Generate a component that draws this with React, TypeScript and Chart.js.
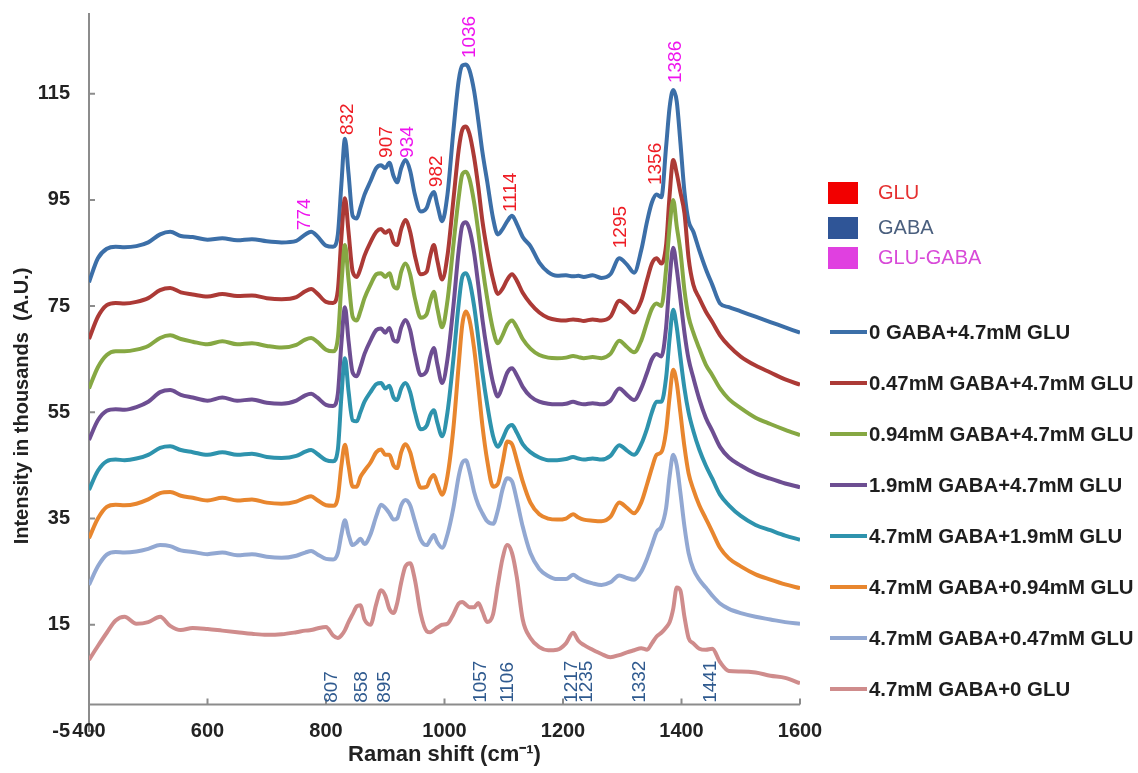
import React, { useEffect, useRef } from 'react';
import { Chart, registerables } from 'chart.js';
Chart.register(...registerables);

// ---------- DATA ----------
const RAMAN_SHIFT = [
  400, 415, 430, 445, 460, 480, 500, 520, 537, 555,
  575, 600, 625, 650, 675, 700, 725, 750, 765, 775,
  785, 800, 812, 820, 826, 832, 838, 845, 852, 858,
  865, 875, 885, 893, 900, 907, 914, 920, 927, 934,
  942, 950, 960, 970, 976, 982, 988, 996, 1005, 1015,
  1024, 1030, 1036, 1042, 1050, 1057, 1064, 1072, 1082, 1090,
  1098, 1106, 1114, 1122, 1132, 1145, 1160, 1175, 1190, 1205,
  1217, 1226, 1235, 1250, 1265, 1280, 1295, 1308, 1320, 1332,
  1342, 1350, 1358, 1366, 1374, 1380, 1386, 1392, 1398, 1405,
  1412, 1420, 1430, 1441, 1452, 1465, 1480, 1500, 1525, 1550,
  1575, 1600,
];

const SERIES_LABELS = [
  '0 GABA+4.7mM GLU',
  '0.47mM GABA+4.7mM GLU',
  '0.94mM GABA+4.7mM GLU',
  '1.9mM GABA+4.7mM GLU',
  '4.7mM GABA+1.9mM GLU',
  '4.7mM GABA+0.94mM GLU',
  '4.7mM GABA+0.47mM GLU',
  '4.7mM GABA+0 GLU',
];

const SERIES_COLORS = ['#3c6fa8', '#ac3a36', '#86a843', '#6d4e92', '#2e93ad', '#e8862e', '#92a8d2', '#cf8c8c'];

const GABA_0 = [
  79.5, 84.0, 85.8, 86.2, 86.1, 86.3, 87.0, 88.5, 89.0, 88.2,
  88.0, 87.5, 87.8, 87.4, 87.6, 87.2, 87.0, 87.3, 88.5, 89.0,
  88.2, 86.4, 86.2, 88.5, 98.0, 106.5, 100.0, 92.0, 91.5, 93.5,
  96.0, 98.5, 101.0, 101.5, 101.0, 102.0, 99.5, 98.3, 101.0, 102.5,
  100.5, 96.0, 92.8, 93.5, 95.5, 96.5, 94.0, 91.0, 96.0, 108.0,
  117.5, 120.3, 120.5, 119.5, 115.5, 110.0, 104.0, 98.5, 91.5, 88.5,
  89.5, 91.0, 92.0, 90.5, 88.0, 86.3, 83.2, 81.4, 80.7, 80.8,
  80.6, 80.7, 80.5, 80.8, 80.3, 81.0, 84.0, 82.8, 81.3, 85.5,
  91.0, 94.5, 96.0, 95.5, 105.0, 112.5, 115.7, 113.5, 106.0, 96.5,
  91.0, 89.0, 85.5, 82.0, 79.0, 75.5, 74.8, 74.0, 73.0, 72.0,
  71.0, 70.0,
];
const GABA_047 = [
  68.8, 73.0, 75.2, 75.6, 75.5, 75.8, 76.5, 78.0, 78.4, 77.6,
  77.2, 76.8, 77.3, 76.9, 77.0, 76.5, 76.3, 76.7, 77.8, 78.2,
  77.4, 75.8, 75.6, 78.0, 88.0, 95.3, 89.0, 81.5, 80.5, 82.0,
  84.5, 87.0, 89.0, 89.5, 88.8, 89.3, 87.0, 86.5, 89.5, 91.2,
  89.0, 84.5, 81.0, 81.5, 84.5, 86.5, 83.5, 80.0, 84.5, 95.0,
  104.5, 108.2, 108.8, 107.5, 103.0, 97.5, 91.0, 85.5, 80.0, 77.3,
  78.3, 80.0, 81.0, 79.8, 77.5, 75.5, 73.8, 72.8, 72.4, 72.3,
  72.5, 72.4, 72.2, 72.5, 72.3, 73.0, 76.0, 75.0, 73.8, 76.0,
  80.0, 83.0, 84.0, 83.0, 86.5, 96.0, 102.5, 100.0, 96.5, 92.5,
  84.0, 79.0, 76.5, 74.0, 72.0, 69.5, 67.5, 65.5, 63.8, 62.5,
  61.2, 60.2,
];
const GABA_094 = [
  59.5, 63.5, 65.8, 66.5, 66.5, 66.8, 67.5, 69.0, 69.5, 68.8,
  68.3, 67.8, 68.4, 67.8, 68.0, 67.5, 67.2, 67.7, 68.7, 69.0,
  68.3, 66.8, 66.5, 69.0, 79.0, 86.5, 80.0, 73.0, 72.3, 74.0,
  76.5, 79.0, 81.0, 81.2, 80.5, 81.2, 78.8, 78.3, 81.5, 83.0,
  81.0, 76.5, 72.8, 73.5, 76.0, 77.7, 74.5, 71.0, 76.0, 86.5,
  95.5, 99.8, 100.3, 99.0, 94.5, 89.0, 82.5, 76.5, 70.5, 68.0,
  69.5, 71.5, 72.3, 71.0, 68.8, 67.0, 65.8, 65.3, 65.2, 65.3,
  65.6, 65.4, 65.2, 65.4, 65.2, 66.0, 68.5, 67.3, 66.3, 68.5,
  72.0, 74.5, 75.5, 75.0, 82.0, 90.0, 95.0, 90.0, 85.5, 78.0,
  73.0, 70.0, 67.0, 64.0, 62.0, 59.5, 57.5, 55.8, 54.0, 52.8,
  51.7, 50.7,
];
const GABA_19 = [
  49.8, 53.5, 55.3, 55.6, 55.5, 56.0, 57.0, 58.8, 59.2, 58.3,
  57.8, 57.2, 57.8, 57.2, 57.4, 56.8, 56.6, 57.2, 58.2, 58.5,
  57.8, 56.4, 56.2, 58.5, 68.0, 74.8, 68.5, 62.5, 61.8, 63.5,
  66.0, 68.5, 70.5, 70.8, 70.0, 70.9, 68.6, 68.3, 71.0, 72.4,
  70.5, 66.0, 62.0, 62.8, 65.5, 67.1, 64.0, 60.5, 65.0, 75.0,
  85.5, 90.2, 90.8, 89.5, 85.0, 79.0, 72.5, 66.5, 60.5, 58.0,
  60.0, 62.5, 63.3, 62.0, 59.8, 58.0, 57.0, 56.6, 56.5, 56.6,
  57.0, 56.7, 56.5, 56.7, 56.5, 57.2, 59.5, 58.3, 57.3, 59.5,
  62.5, 65.0, 66.0, 65.5, 71.0, 80.0, 86.0, 82.0, 76.5, 70.0,
  65.0, 61.5, 57.5, 54.0, 51.5, 48.5, 46.5, 45.0, 43.5, 42.5,
  41.6, 40.9,
];
const GLU_19 = [
  40.4, 44.0, 45.8, 46.1, 46.0, 46.3, 47.0, 48.3, 48.6, 47.9,
  47.5, 47.0, 47.5, 47.0, 47.2, 46.6, 46.4, 46.8, 47.6, 47.9,
  47.2, 46.0, 45.8, 48.0, 58.0, 65.2, 59.0, 53.5, 53.3, 55.0,
  57.0, 58.8, 60.3, 60.5, 59.5, 60.0, 57.8, 57.3, 59.5, 60.5,
  58.8, 55.0, 51.8, 52.5, 54.5, 55.4, 53.0, 50.5, 55.0, 65.0,
  75.5, 80.5, 81.2, 79.8, 75.0, 69.0, 62.5, 56.5, 50.5, 48.5,
  50.0, 52.0, 52.6, 51.2, 49.0, 47.5, 46.5, 46.0, 46.0, 46.2,
  46.6, 46.3, 46.1, 46.3, 46.1, 46.8, 48.8, 47.8, 47.0, 49.0,
  52.0, 55.0, 57.0, 57.0, 61.5, 69.0, 74.3, 71.0, 65.5, 59.5,
  55.0, 51.5, 48.0, 45.0, 42.5, 39.5, 37.5, 35.5, 33.8, 32.8,
  31.8, 31.0,
];
const GLU_094 = [
  31.3, 35.0, 37.2, 37.6, 37.5, 37.8, 38.6, 39.8, 40.0, 39.3,
  38.9, 38.4, 38.9, 38.4, 38.6, 38.0, 37.8, 38.2, 38.9, 39.2,
  38.5, 37.5, 37.4, 39.0, 45.0, 48.9, 45.0, 41.0, 41.0, 42.8,
  44.0, 45.5, 47.5, 48.0, 47.0, 47.0, 45.0, 44.5, 47.5, 49.0,
  47.5, 44.0, 40.8, 41.0, 42.5, 43.2, 41.5, 39.5, 43.0, 52.0,
  64.0, 71.5, 74.0, 72.5, 67.0, 60.0, 52.5, 46.0, 41.0, 41.5,
  45.5, 49.5, 49.0, 46.0, 42.0, 38.0, 35.8, 35.0, 34.8, 35.0,
  35.8, 35.2, 34.8, 34.6, 34.5, 35.3, 38.0, 37.0, 36.0, 38.0,
  41.5, 44.5, 47.0, 47.5, 51.5, 58.0, 63.0, 60.5, 55.0, 48.5,
  43.5, 40.5, 37.5, 35.0, 32.5, 29.5, 27.5, 26.0, 24.5, 23.5,
  22.6, 21.9,
];
const GLU_047 = [
  22.5, 26.0, 28.2, 28.7, 28.6, 28.8, 29.3, 30.0, 29.8, 29.0,
  28.7, 28.3, 28.6, 28.1, 28.3, 27.8, 27.6, 28.0, 28.6, 28.9,
  28.3, 27.4, 27.3, 28.5, 32.0, 34.7, 32.0, 30.0, 30.5, 31.2,
  30.2, 32.0, 35.5, 37.6, 37.0, 36.0, 34.8, 35.0, 37.5, 38.5,
  37.5, 34.5, 31.0, 30.0, 31.0, 31.9, 30.5, 29.5, 32.0, 37.0,
  43.0, 45.5, 46.0, 44.0, 40.0, 37.6, 36.0, 34.5, 34.0, 36.5,
  40.5, 42.6, 42.0, 38.5, 33.5, 28.5, 25.5, 24.2, 23.6, 23.6,
  24.4, 23.8, 23.3, 22.8, 22.5, 23.0, 24.3, 23.8, 23.5, 25.0,
  27.5, 30.0, 32.5, 33.5, 37.0, 43.0, 47.0, 45.0, 40.0, 33.5,
  28.5, 25.5, 23.5, 22.0, 20.5, 19.0, 18.0, 17.2, 16.5, 16.0,
  15.5, 15.2,
];
const GLU_0 = [
  8.4, 11.0, 13.5, 15.8, 16.5, 15.2, 15.5, 16.5, 14.8, 14.0,
  14.4, 14.2, 13.9, 13.6, 13.3, 13.1, 13.2, 13.6, 13.9, 14.0,
  14.3, 14.6, 13.0, 12.5, 13.0, 14.0, 15.5, 17.0, 18.5, 18.7,
  16.0, 15.0, 19.0, 21.5, 20.5, 18.0, 17.2, 19.0, 23.0, 26.0,
  26.6, 23.5, 17.0, 13.8, 13.6, 14.0, 14.5, 15.0, 15.2, 17.0,
  19.0, 19.3, 18.8, 18.3, 18.3, 19.1, 17.5, 15.5, 17.0, 22.5,
  27.5, 30.0, 28.5, 24.0, 16.0, 12.5, 10.8, 10.2, 10.3, 11.5,
  13.5, 12.0, 11.2, 10.3, 9.5, 8.9, 9.3, 9.8, 10.2, 10.6,
  10.3, 11.5, 12.8, 13.5, 14.5, 15.5, 18.0, 22.0, 21.5, 16.5,
  12.5, 11.5, 10.5, 10.3, 10.5, 8.0, 6.3, 6.2, 6.0, 5.4,
  5.0, 4.0,
];

const SERIES_VALUES = [GABA_0, GABA_047, GABA_094, GABA_19, GLU_19, GLU_094, GLU_047, GLU_0];

const Y_TICKS = [-5, 15, 35, 55, 75, 95, 115];
const X_TICKS = [400, 600, 800, 1000, 1200, 1400, 1600];

// Peak annotations above the spectra (text, anchor x, anchor y, kind)
const TOP_PEAK_TEXT = ['774', '832', '907', '934', '982', '1036', '1114', '1295', '1356', '1386'];
const TOP_PEAK_X = [765, 837, 903, 938, 987, 1043, 1112, 1298, 1357, 1391];
const TOP_PEAK_Y = [89.3, 107.2, 102.9, 102.9, 97.4, 121.7, 92.7, 85.9, 97.8, 117.0];
const TOP_PEAK_KIND = ['GLU-GABA', 'GLU', 'GLU', 'GLU-GABA', 'GLU', 'GLU-GABA', 'GLU', 'GLU', 'GLU', 'GLU-GABA'];

// Peak annotations along the bottom (GABA bands)
const BOTTOM_PEAK_TEXT = ['807', '858', '895', '1057', '1106', '1217', '1235', '1332', '1441'];
const BOTTOM_PEAK_X = [810, 861, 900, 1062, 1107, 1215, 1240, 1330, 1450];

const KEY_LABELS = ['GLU', 'GABA', 'GLU-GABA'];
const KEY_FILL = { 'GLU': '#f20000', 'GABA': '#2f5597', 'GLU-GABA': '#e040e0' } as Record<string, string>;
const KEY_TEXT = { 'GLU': '#e53030', 'GABA': '#4a5f7e', 'GLU-GABA': '#d84ad8' } as Record<string, string>;
const PEAK_TEXT_COLOR = { 'GLU': '#ee1c24', 'GLU-GABA': '#ee14ee', 'GABA': '#2f5a8f' } as Record<string, string>;

const FONT = '"Liberation Sans", Arial, Helvetica, sans-serif';

const overlay = {
  id: 'overlay',
  beforeDatasetsDraw(chart: any) {
    const { ctx, scales } = chart;
    const x = scales.x, y = scales.y;
    const y0 = y.getPixelForValue(0);
    ctx.save();
    ctx.strokeStyle = '#8c8c8c';
    ctx.lineWidth = 2;
    ctx.beginPath();
    ctx.moveTo(x.left, y0);
    ctx.lineTo(x.right, y0);
    X_TICKS.forEach((v) => {
      const px = x.getPixelForValue(v);
      ctx.moveTo(px, y0);
      ctx.lineTo(px, y0 - 6);
    });
    Y_TICKS.forEach((v) => {
      const py = y.getPixelForValue(v);
      ctx.moveTo(x.left, py);
      ctx.lineTo(x.left + 6, py);
    });
    ctx.stroke();
    ctx.restore();
  },
  afterDraw(chart: any) {
    const { ctx, scales } = chart;
    const x = scales.x, y = scales.y;
    ctx.save();

    // x tick labels, on the row of the lowest y tick
    ctx.fillStyle = '#222';
    ctx.font = `bold 20px ${FONT}`;
    ctx.textAlign = 'center';
    ctx.textBaseline = 'middle';
    const yLab = y.getPixelForValue(Y_TICKS[0]);
    X_TICKS.forEach((v) => {
      ctx.fillText(String(v), x.getPixelForValue(v), yLab);
    });

    // y-axis title
    ctx.save();
    ctx.translate(22, 406);
    ctx.rotate(-Math.PI / 2);
    ctx.fillText('Intensity in thousands  (A.U.)', 0, 0);
    ctx.restore();

    // top peak labels (rotated)
    ctx.font = `19px ${FONT}`;
    ctx.textAlign = 'left';
    ctx.textBaseline = 'middle';
    TOP_PEAK_TEXT.forEach((t, i) => {
      const px = x.getPixelForValue(TOP_PEAK_X[i]);
      const py = y.getPixelForValue(TOP_PEAK_Y[i]);
      ctx.save();
      ctx.translate(px, py);
      ctx.rotate(-Math.PI / 2);
      ctx.fillStyle = PEAK_TEXT_COLOR[TOP_PEAK_KIND[i]];
      ctx.fillText(t, 0, 0);
      ctx.restore();
    });

    // bottom peak labels
    BOTTOM_PEAK_TEXT.forEach((t, i) => {
      const px = x.getPixelForValue(BOTTOM_PEAK_X[i]);
      const py = y.getPixelForValue(0.3);
      ctx.save();
      ctx.translate(px, py);
      ctx.rotate(-Math.PI / 2);
      ctx.fillStyle = PEAK_TEXT_COLOR['GABA'];
      ctx.fillText(t, 0, 0);
      ctx.restore();
    });

    // colour key
    const keyTops = [182, 217, 247];
    KEY_LABELS.forEach((k, i) => {
      ctx.fillStyle = KEY_FILL[k];
      ctx.fillRect(828, keyTops[i], 30, 22);
      ctx.fillStyle = KEY_TEXT[k];
      ctx.font = `20px ${FONT}`;
      ctx.textAlign = 'left';
      ctx.textBaseline = 'middle';
      ctx.fillText(k, 878, keyTops[i] + 11);
    });

    // series legend
    chart.data.datasets.forEach((ds: any, i: number) => {
      const cy = 332 + i * 51;
      ctx.strokeStyle = ds.borderColor;
      ctx.lineWidth = 4;
      ctx.beginPath();
      ctx.moveTo(830, cy);
      ctx.lineTo(867, cy);
      ctx.stroke();
      ctx.fillStyle = '#1e1e1e';
      ctx.font = `bold 20.4px ${FONT}`;
      ctx.textAlign = 'left';
      ctx.textBaseline = 'middle';
      ctx.fillText(ds.label, 869, cy + 1);
    });
    ctx.restore();
  },
};

export default function App() {
  const ref = useRef<HTMLCanvasElement | null>(null);
  useEffect(() => {
    if (!ref.current) return;
    const datasets = SERIES_VALUES.map((vals, i) => ({
      label: SERIES_LABELS[i],
      data: RAMAN_SHIFT.map((xv, j) => ({ x: xv, y: vals[j] })),
      borderColor: SERIES_COLORS[i],
      backgroundColor: SERIES_COLORS[i],
      borderWidth: 4,
      pointRadius: 0,
      cubicInterpolationMode: 'monotone' as const,
      order: SERIES_VALUES.length - i,
      fill: false,
    }));
    const chart = new Chart(ref.current, {
      type: 'line',
      data: { datasets },
      plugins: [overlay],
      options: {
        animation: false,
        responsive: false,
        maintainAspectRatio: false,
        layout: { padding: { left: 0, right: 338, top: 14, bottom: 0 } },
        plugins: { legend: { display: false }, tooltip: { enabled: false } },
        scales: {
          x: {
            type: 'linear',
            min: 400,
            max: 1600,
            grid: { display: false, drawTicks: false },
            border: { display: false },
            ticks: { display: false, stepSize: 200 },
            title: {
              display: true,
              text: 'Raman shift (cm\u207B\u00B9)',
              color: '#222',
              font: { family: FONT, size: 22, weight: 'bold' },
              padding: { top: 0, bottom: 5 },
            },
            afterFit: (s: any) => {
              s.height = 42;
              s.paddingLeft = 0; s.paddingRight = 0; s.paddingTop = 0; s.paddingBottom = 0;
            },
          },
          y: {
            type: 'linear',
            min: -5,
            max: 130,
            grid: { display: false, drawTicks: false },
            border: { display: true, color: '#8c8c8c', width: 2 },
            ticks: {
              padding: 19,
              color: '#222',
              font: { family: FONT, size: 20, weight: 'bold' },
            },
            afterBuildTicks: (s: any) => { s.ticks = Y_TICKS.map((v) => ({ value: v })); },
            afterFit: (s: any) => {
              s.width = 89;
              s.paddingTop = 0; s.paddingBottom = 0; s.paddingLeft = 0; s.paddingRight = 0;
            },
          },
        },
      } as any,
    });
    return () => chart.destroy();
  }, []);
  return (
    <div style={{ position: 'fixed', left: 0, top: 0, width: 1138, height: 773, background: '#fff' }}>
      <canvas ref={ref} width={1138} height={773} style={{ display: 'block', width: '1138px', height: '773px' }} />
    </div>
  );
}
